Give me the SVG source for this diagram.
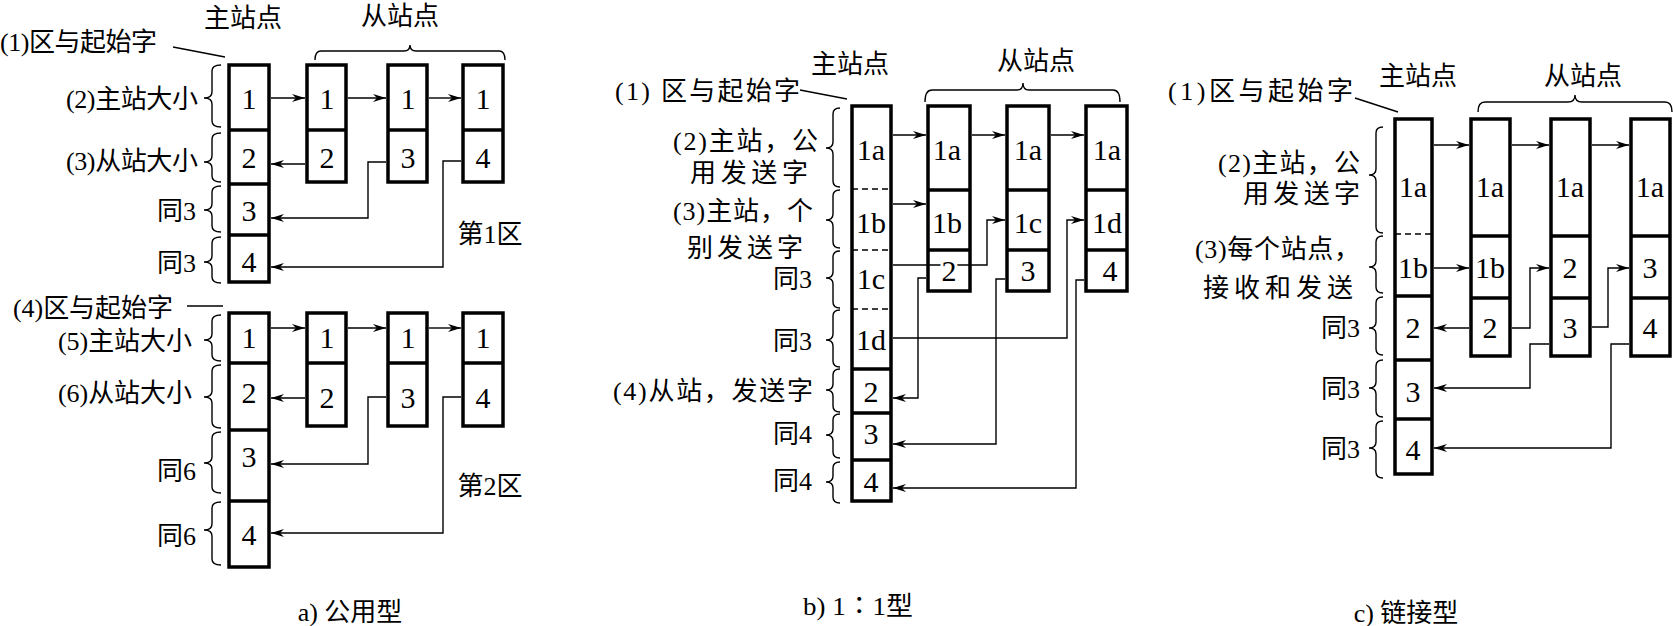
<svg xmlns="http://www.w3.org/2000/svg" width="1673" height="626" viewBox="0 0 1673 626">
<style>
text{font-family:"Liberation Serif","Noto Sans CJK SC",serif;fill:#000}
.lb{font-size:26px}
.nm{font-size:30px;text-anchor:middle}
.e{text-anchor:end}
.m{text-anchor:middle}
.box{fill:none;stroke:#000;stroke-width:3.5}
.dv{stroke:#000;stroke-width:3.5}
.ds{stroke:#000;stroke-width:1.5;stroke-dasharray:6 4}
.br{fill:none;stroke:#000;stroke-width:1.4}
.cn{fill:none;stroke:#000;stroke-width:1.4}
.ar{marker-end:url(#ah)}
.wh{paint-order:stroke;stroke:#fff;stroke-width:6}
</style>
<defs>
<marker id="ah" markerUnits="userSpaceOnUse" markerWidth="14" markerHeight="10" refX="13" refY="4.5" orient="auto">
<path d="M0,0.5 L13,4.5 L0,8.5 L4,4.5 Z" fill="#000"/>
</marker>
</defs>
<rect width="1673" height="626" fill="#fff"/>

<!-- ===== a) 公用型 ===== -->
<g id="a-titles">
<text class="lb m" x="243" y="27">主站点</text>
<text class="lb m" x="400" y="25">从站点</text>
<path class="br" d="M315,60 Q315,51 321,51 L404,51 Q410,51 410,45 Q410,51 416,51 L499,51 Q505,51 505,60"/>
<text class="lb" x="0" y="51" textLength="157" lengthAdjust="spacing">(1)区与起始字</text>
<line class="cn" x1="173" y1="47" x2="225" y2="57"/>
<text class="lb m" x="490" y="243">第1区</text>
<text class="lb" x="13" y="317" textLength="160" lengthAdjust="spacing">(4)区与起始字</text>
<line class="cn" x1="187" y1="306" x2="223" y2="306"/>
<text class="lb m" x="490" y="495">第2区</text>
<text class="lb m" x="350" y="621">a) 公用型</text>
</g>
<g id="a-labels">
<text class="lb e" x="198" y="108" textLength="132" lengthAdjust="spacing">(2)主站大小</text>
<text class="lb e" x="198" y="170" textLength="132" lengthAdjust="spacing">(3)从站大小</text>
<text class="lb e" x="196" y="220">同3</text>
<text class="lb e" x="196" y="272">同3</text>
<text class="lb e" x="192" y="350" textLength="134" lengthAdjust="spacing">(5)主站大小</text>
<text class="lb e" x="192" y="402" textLength="134" lengthAdjust="spacing">(6)从站大小</text>
<text class="lb e" x="196" y="480">同6</text>
<text class="lb e" x="196" y="545">同6</text>
</g>
<g id="a-braces">
<path class="br" d="M221,65 Q212,65 212,71 L212,92 Q212,98 204,98 Q212,98 212,104 L212,121 Q212,127 221,127"/>
<path class="br" d="M221,133 Q212,133 212,139 L212,156 Q212,162 204,162 Q212,162 212,168 L212,176 Q212,182 221,182"/>
<path class="br" d="M221,186 Q212,186 212,192 L212,204 Q212,210 204,210 Q212,210 212,216 L212,226 Q212,232 221,232"/>
<path class="br" d="M221,237 Q212,237 212,243 L212,256 Q212,262 204,262 Q212,262 212,268 L212,277 Q212,283 221,283"/>
<path class="br" d="M221,315 Q212,315 212,321 L212,334 Q212,340 204,340 Q212,340 212,346 L212,355 Q212,361 221,361"/>
<path class="br" d="M221,365 Q212,365 212,371 L212,391 Q212,397 204,397 Q212,397 212,403 L212,422 Q212,428 221,428"/>
<path class="br" d="M221,432 Q212,432 212,438 L212,457 Q212,463 204,463 Q212,463 212,469 L212,487 Q212,493 221,493"/>
<path class="br" d="M221,502 Q212,502 212,508 L212,524 Q212,530 204,530 Q212,530 212,536 L212,559 Q212,565 221,565"/>
</g>
<g id="a1-master">
<rect class="box" x="229" y="65" width="40" height="217"/>
<line class="dv" x1="229" y1="130" x2="269" y2="130"/>
<line class="dv" x1="229" y1="184" x2="269" y2="184"/>
<line class="dv" x1="229" y1="235" x2="269" y2="235"/>
<text class="nm" x="249" y="109">1</text>
<text class="nm" x="249" y="168">2</text>
<text class="nm" x="249" y="221">3</text>
<text class="nm" x="249" y="272">4</text>
</g>
<g id="a1-s1">
<rect class="box" x="307" y="65" width="39" height="117"/>
<line class="dv" x1="307" y1="130" x2="346" y2="130"/>
<text class="nm" x="327" y="109">1</text>
<text class="nm" x="327" y="168">2</text>
</g>
<g id="a1-s2">
<rect class="box" x="388" y="65" width="39" height="117"/>
<line class="dv" x1="388" y1="130" x2="427" y2="130"/>
<text class="nm" x="408" y="109">1</text>
<text class="nm" x="408" y="168">3</text>
</g>
<g id="a1-s3">
<rect class="box" x="463" y="65" width="40" height="117"/>
<line class="dv" x1="463" y1="130" x2="503" y2="130"/>
<text class="nm" x="483" y="109">1</text>
<text class="nm" x="483" y="168">4</text>
</g>
<g id="a2-master">
<rect class="box" x="229" y="313" width="40" height="254"/>
<line class="dv" x1="229" y1="363" x2="269" y2="363"/>
<line class="dv" x1="229" y1="430" x2="269" y2="430"/>
<line class="dv" x1="229" y1="501" x2="269" y2="501"/>
<text class="nm" x="249" y="348">1</text>
<text class="nm" x="249" y="403">2</text>
<text class="nm" x="249" y="467">3</text>
<text class="nm" x="249" y="545">4</text>
</g>
<g id="a2-s1">
<rect class="box" x="307" y="313" width="39" height="113"/>
<line class="dv" x1="307" y1="363" x2="346" y2="363"/>
<text class="nm" x="327" y="348">1</text>
<text class="nm" x="327" y="408">2</text>
</g>
<g id="a2-s2">
<rect class="box" x="388" y="313" width="39" height="113"/>
<line class="dv" x1="388" y1="363" x2="427" y2="363"/>
<text class="nm" x="408" y="348">1</text>
<text class="nm" x="408" y="408">3</text>
</g>
<g id="a2-s3">
<rect class="box" x="463" y="313" width="40" height="113"/>
<line class="dv" x1="463" y1="363" x2="503" y2="363"/>
<text class="nm" x="483" y="348">1</text>
<text class="nm" x="483" y="408">4</text>
</g>

<!-- ===== b) 1:1型 ===== -->
<g id="b-titles">
<text class="lb m" x="850" y="73">主站点</text>
<text class="lb m" x="1036" y="70">从站点</text>
<path class="br" d="M925,102 Q925,90 932,90 L1017,90 Q1023,90 1023,83 Q1023,90 1029,90 L1113,90 Q1120,90 1120,102"/>
<text class="lb" x="615" y="100" textLength="185" lengthAdjust="spacing">(1) 区与起始字</text>
<line class="cn" x1="800" y1="90" x2="847" y2="99"/>
<text class="lb" x="803" y="615" textLength="110" lengthAdjust="spacingAndGlyphs">b) 1∶1型</text>
</g>
<g id="b-labels">
<text class="lb e" x="818" y="150" textLength="145" lengthAdjust="spacing">(2)主站，公</text>
<text class="lb e" x="808" y="182" textLength="118" lengthAdjust="spacing">用发送字</text>
<text class="lb e" x="813" y="220" textLength="140" lengthAdjust="spacing">(3)主站，个</text>
<text class="lb e" x="803" y="257" textLength="116" lengthAdjust="spacing">别发送字</text>
<text class="lb e" x="812" y="288">同3</text>
<text class="lb e" x="812" y="350">同3</text>
<text class="lb e" x="813" y="400" textLength="200" lengthAdjust="spacing">(4)从站，发送字</text>
<text class="lb e" x="812" y="443">同4</text>
<text class="lb e" x="812" y="490">同4</text>
</g>
<g id="b-braces">
<path class="br" d="M840,108 Q833,108 833,114 L833,142 Q833,148 826,148 Q833,148 833,154 L833,181 Q833,187 840,187"/>
<path class="br" d="M840,190 Q833,190 833,196 L833,214 Q833,220 826,220 Q833,220 833,226 L833,242 Q833,248 840,248"/>
<path class="br" d="M840,251 Q833,251 833,257 L833,272 Q833,278 826,278 Q833,278 833,284 L833,302 Q833,308 840,308"/>
<path class="br" d="M840,310 Q833,310 833,316 L833,334 Q833,340 826,340 Q833,340 833,346 L833,361 Q833,367 840,367"/>
<path class="br" d="M840,369 Q833,369 833,375 L833,384 Q833,390 826,390 Q833,390 833,396 L833,406 Q833,412 840,412"/>
<path class="br" d="M840,414 Q833,414 833,420 L833,429 Q833,435 826,435 Q833,435 833,441 L833,452 Q833,458 840,458"/>
<path class="br" d="M840,462 Q833,462 833,468 L833,476 Q833,482 826,482 Q833,482 833,488 L833,497 Q833,503 840,503"/>
</g>
<g id="b-master">
<rect class="box" x="852" y="106" width="39" height="395"/>
<line class="ds" x1="852" y1="189" x2="891" y2="189"/>
<line class="ds" x1="852" y1="250" x2="891" y2="250"/>
<line class="ds" x1="852" y1="309" x2="891" y2="309"/>
<line class="dv" x1="852" y1="369" x2="891" y2="369"/>
<line class="dv" x1="852" y1="413" x2="891" y2="413"/>
<line class="dv" x1="852" y1="460" x2="891" y2="460"/>
<text class="nm" x="871" y="160">1a</text>
<text class="nm" x="871" y="233">1b</text>
<text class="nm" x="871" y="289">1c</text>
<text class="nm" x="871" y="350">1d</text>
<text class="nm" x="871" y="402">2</text>
<text class="nm" x="871" y="444">3</text>
<text class="nm" x="871" y="492">4</text>
</g>

<!-- ===== c) 链接型 ===== -->
<g id="c-titles">
<text class="lb m" x="1418" y="85">主站点</text>
<text class="lb m" x="1583" y="85">从站点</text>
<path class="br" d="M1478,112 Q1478,102 1485,102 L1568,102 Q1575,102 1575,95 Q1575,102 1582,102 L1665,102 Q1672,102 1672,112"/>
<text class="lb" x="1168" y="100" textLength="185" lengthAdjust="spacing">(1)区与起始字</text>
<line class="cn" x1="1355" y1="98" x2="1398" y2="112"/>
<text class="lb m" x="1406" y="622">c) 链接型</text>
</g>
<g id="c-labels">
<text class="lb e" x="1360" y="172" textLength="142" lengthAdjust="spacing">(2)主站，公</text>
<text class="lb e" x="1360" y="203" textLength="117" lengthAdjust="spacing">用发送字</text>
<text class="lb e" x="1360" y="258" textLength="165" lengthAdjust="spacing">(3)每个站点，</text>
<text class="lb e" x="1353" y="297" textLength="150" lengthAdjust="spacing">接收和发送</text>
<text class="lb e" x="1360" y="337">同3</text>
<text class="lb e" x="1360" y="398">同3</text>
<text class="lb e" x="1360" y="458">同3</text>
</g>
<g id="c-braces">
<path class="br" d="M1383,127 Q1376,127 1376,133 L1376,169 Q1376,175 1369,175 Q1376,175 1376,181 L1376,227 Q1376,233 1383,233"/>
<path class="br" d="M1383,236 Q1376,236 1376,242 L1376,261 Q1376,267 1369,267 Q1376,267 1376,273 L1376,287 Q1376,293 1383,293"/>
<path class="br" d="M1383,297 Q1376,297 1376,303 L1376,322 Q1376,328 1369,328 Q1376,328 1376,334 L1376,349 Q1376,355 1383,355"/>
<path class="br" d="M1383,360 Q1376,360 1376,366 L1376,382 Q1376,388 1369,388 Q1376,388 1376,394 L1376,411 Q1376,417 1383,417"/>
<path class="br" d="M1383,421 Q1376,421 1376,427 L1376,442 Q1376,448 1369,448 Q1376,448 1376,454 L1376,472 Q1376,478 1383,478"/>
</g>
<g id="c-master">
<rect class="box" x="1395" y="119" width="37" height="355"/>
<line class="ds" x1="1395" y1="234" x2="1432" y2="234"/>
<line class="dv" x1="1395" y1="296" x2="1432" y2="296"/>
<line class="dv" x1="1395" y1="360" x2="1432" y2="360"/>
<line class="dv" x1="1395" y1="419" x2="1432" y2="419"/>
<text class="nm" x="1413" y="197">1a</text>
<text class="nm" x="1413" y="278">1b</text>
<text class="nm" x="1413" y="338">2</text>
<text class="nm" x="1413" y="402">3</text>
<text class="nm" x="1413" y="460">4</text>
</g>
<g id="c-s1">
<rect class="box" x="1471" y="119" width="39" height="237"/>
<line class="dv" x1="1471" y1="236" x2="1510" y2="236"/>
<line class="dv" x1="1471" y1="298" x2="1510" y2="298"/>
<text class="nm" x="1490" y="197">1a</text>
<text class="nm" x="1490" y="278">1b</text>
<text class="nm" x="1490" y="338">2</text>
</g>
<g id="c-s2">
<rect class="box" x="1551" y="119" width="39" height="237"/>
<line class="dv" x1="1551" y1="236" x2="1590" y2="236"/>
<line class="dv" x1="1551" y1="298" x2="1590" y2="298"/>
<text class="nm" x="1570" y="197">1a</text>
<text class="nm" x="1570" y="278">2</text>
<text class="nm" x="1570" y="338">3</text>
</g>
<g id="c-s3">
<rect class="box" x="1631" y="119" width="39" height="237"/>
<line class="dv" x1="1631" y1="236" x2="1670" y2="236"/>
<line class="dv" x1="1631" y1="298" x2="1670" y2="298"/>
<text class="nm" x="1650" y="197">1a</text>
<text class="nm" x="1650" y="278">3</text>
<text class="nm" x="1650" y="338">4</text>
</g>

<!-- ===== connectors ===== -->
<g id="connectors">
<path class="cn ar" d="M271,98 H305"/>
<path class="cn ar" d="M348,98 H386"/>
<path class="cn ar" d="M429,98 H461"/>
<path class="cn ar" d="M305,164 H271"/>
<path class="cn ar" d="M386,162 H368 V218 H271"/>
<path class="cn ar" d="M461,161 H443 V267 H271"/>
<path class="cn ar" d="M271,328 H305"/>
<path class="cn ar" d="M348,328 H386"/>
<path class="cn ar" d="M429,328 H461"/>
<path class="cn ar" d="M305,398 H271"/>
<path class="cn ar" d="M386,397 H368 V464 H271"/>
<path class="cn ar" d="M461,397 H443 V533 H271"/>

<path class="cn ar" d="M893,135 H926"/>
<path class="cn ar" d="M972,135 H1005"/>
<path class="cn ar" d="M1051,135 H1084"/>
<path class="cn ar" d="M893,204 H926"/>
<path class="cn ar" d="M893,265 H987 V220 H1005"/>
<path class="cn ar" d="M893,338 H1067 V220 H1084"/>
<path class="cn ar" d="M926,278 H918 V398 H893"/>
<path class="cn ar" d="M1005,279 H996 V444 H893"/>
<path class="cn ar" d="M1084,280 H1076 V488 H893"/>

<path class="cn ar" d="M1434,145 H1469"/>
<path class="cn ar" d="M1512,145 H1549"/>
<path class="cn ar" d="M1592,145 H1629"/>
<path class="cn ar" d="M1434,268 H1469"/>
<path class="cn ar" d="M1512,328 H1530 V268 H1549"/>
<path class="cn ar" d="M1592,327 H1608 V268 H1629"/>
<path class="cn ar" d="M1469,328 H1434"/>
<path class="cn ar" d="M1549,344 H1530 V388 H1434"/>
<path class="cn ar" d="M1629,344 H1611 V448 H1434"/>
</g>

<g id="b-s1">
<rect class="box" x="928" y="106" width="42" height="185"/>
<line class="dv" x1="928" y1="190" x2="970" y2="190"/>
<line class="dv" x1="928" y1="250" x2="970" y2="250"/>
<text class="nm" x="947" y="160">1a</text>
<text class="nm" x="947" y="233">1b</text>
<text class="nm wh" x="949" y="281">2</text>
</g>
<g id="b-s2">
<rect class="box" x="1007" y="106" width="42" height="185"/>
<line class="dv" x1="1007" y1="190" x2="1049" y2="190"/>
<line class="dv" x1="1007" y1="250" x2="1049" y2="250"/>
<text class="nm" x="1028" y="160">1a</text>
<text class="nm" x="1028" y="233">1c</text>
<text class="nm" x="1028" y="281">3</text>
</g>
<g id="b-s3">
<rect class="box" x="1086" y="106" width="41" height="185"/>
<line class="dv" x1="1086" y1="190" x2="1127" y2="190"/>
<line class="dv" x1="1086" y1="250" x2="1127" y2="250"/>
<text class="nm" x="1107" y="160">1a</text>
<text class="nm" x="1107" y="233">1d</text>
<text class="nm" x="1110" y="281">4</text>
</g>
</svg>
